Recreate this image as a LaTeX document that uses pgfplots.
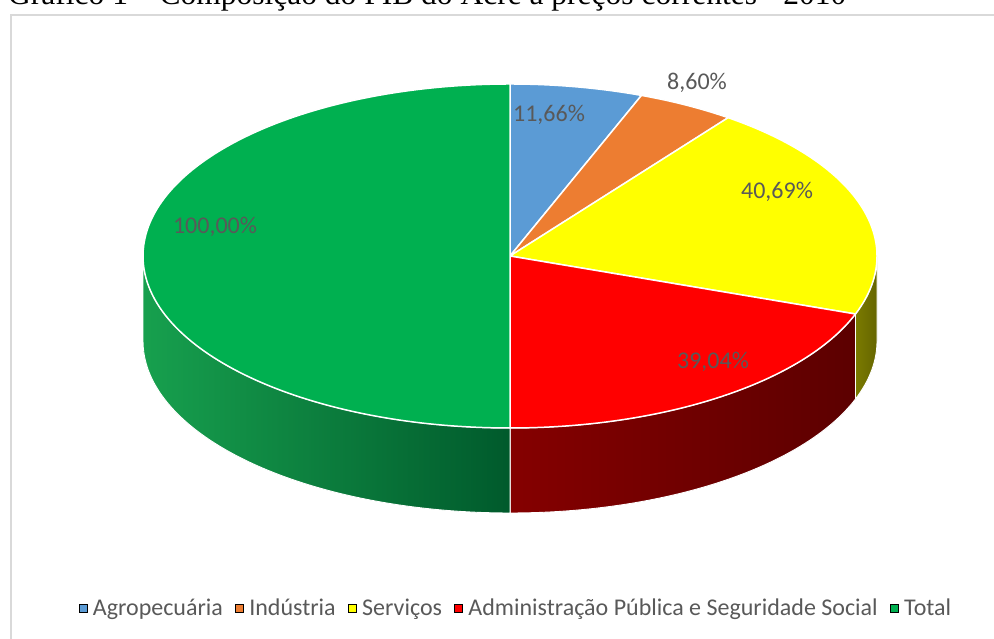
\documentclass[border=0pt]{standalone}
\usepackage{pgfplots}
\pgfplotsset{compat=1.18}
\usepackage{pgfplotstable}
\usepackage{fontspec}
\setmainfont{Carlito}
\newfontfamily\titlefont{Liberation Serif}

\definecolor{pc0}{HTML}{5B9BD5}
\definecolor{pc1}{HTML}{ED7D31}
\definecolor{pc2}{HTML}{FFFF00}
\definecolor{pc3}{HTML}{FF0000}
\definecolor{pc4}{HTML}{00B050}
\definecolor{wl0}{HTML}{2E5C8A}\definecolor{wr0}{HTML}{244A70}
\definecolor{wl1}{HTML}{8A4A1C}\definecolor{wr1}{HTML}{703B16}
\definecolor{wl2}{HTML}{7A7A00}\definecolor{wr2}{HTML}{666600}
\definecolor{wl3}{HTML}{850000}\definecolor{wr3}{HTML}{5C0000}
\definecolor{wl4}{HTML}{17A04E}\definecolor{wr4}{HTML}{005A2C}
\definecolor{labelgray}{HTML}{595959}
\definecolor{framegray}{HTML}{D9D9D9}

\pgfplotstableread{
name value
Agropecuaria 11.66
Industria 8.60
Servicos 40.69
Administracao 39.04
Total 100.00
}\piedata

\pgfmathsetmacro\pietotal{0}
\pgfplotsforeachungrouped \i in {0,...,4}{%
  \pgfplotstablegetelem{\i}{value}\of\piedata
  \pgfmathsetmacro\pietotal{\pietotal+\pgfplotsretval}%
}
\pgfmathsetmacro\piecum{0}
\pgfplotsforeachungrouped \i in {0,...,4}{%
  \pgfplotstablegetelem{\i}{value}\of\piedata
  \pgfmathsetmacro\pieend{\piecum+\pgfplotsretval/\pietotal*360}%
  \pgfmathsetmacro\tS{90-\piecum}%
  \pgfmathsetmacro\tE{90-\pieend}%
  \expandafter\xdef\csname pieTS\i\endcsname{\tS}%
  \expandafter\xdef\csname pieTE\i\endcsname{\tE}%
  \pgfmathsetmacro\wS{max(\piecum,90)}%
  \pgfmathsetmacro\wE{min(\pieend,270)}%
  \pgfmathtruncatemacro\wF{\wE>\wS ? 1 : 0}%
  \pgfmathsetmacro\wA{90-\wS}%
  \pgfmathsetmacro\wB{90-\wE}%
  \expandafter\xdef\csname pieWF\i\endcsname{\wF}%
  \expandafter\xdef\csname pieWA\i\endcsname{\wA}%
  \expandafter\xdef\csname pieWB\i\endcsname{\wB}%
  \xdef\piecum{\pieend}%
}

\begin{document}
\begin{tikzpicture}[x=1pt,y=1pt]
\draw[framegray, line width=1.6pt] (11,-30) -- (11,624) -- (1030,624);
\node[anchor=base west, inner sep=0pt, font=\titlefont\fontsize{31.5}{36}\selectfont] at (8,634.5)
  {Gráfico 1 – Composição do PIB do Acre a preços correntes - 2010};
\begin{axis}[
  at={(0pt,0pt)}, anchor=south west,
  scale only axis, width=994pt, height=639pt,
  xmin=0, xmax=994, ymin=0, ymax=639,
  hide axis, clip=false,
  legend columns=5,
  legend cell align=left,
  legend image code/.code={\fill[#1] (0pt,-4pt) rectangle (8pt,4pt); \path (12pt,0pt);},
  legend style={at={(0.519,0.0485)}, anchor=center, draw=none, fill=none,
    font=\fontsize{24}{28}\selectfont, text=labelgray,
    /tikz/every even column/.append style={column sep=10pt}},
]
\pgfplotsinvokeforeach{0,...,4}{%
  \ifnum\csname pieWF#1\endcsname=1
  \shade[left color=wl#1, right color=wr#1, draw=white, line width=0.9pt]
    (axis cs:{510+367*cos(\csname pieWA#1\endcsname)},{383+172*sin(\csname pieWA#1\endcsname)})
    arc[start angle=\csname pieWA#1\endcsname, end angle=\csname pieWB#1\endcsname, x radius=367pt, y radius=172pt]
    -- ++(0pt,-85pt)
    arc[start angle=\csname pieWB#1\endcsname, end angle=\csname pieWA#1\endcsname, x radius=367pt, y radius=172pt]
    -- cycle;
  \fi
}
\pgfplotsinvokeforeach{0,...,4}{%
  \path[fill=pc#1, draw=white, line width=1.5pt, line join=round]
    (axis cs:510,383) --
    (axis cs:{510+367*cos(\csname pieTS#1\endcsname)},{383+172*sin(\csname pieTS#1\endcsname)})
    arc[start angle=\csname pieTS#1\endcsname, end angle=\csname pieTE#1\endcsname, x radius=367pt, y radius=172pt]
    -- cycle;
}
\addlegendimage{fill=pc0}\addlegendentry{Agropecuária}
\addlegendimage{fill=pc1}\addlegendentry{Indústria}
\addlegendimage{fill=pc2}\addlegendentry{Serviços}
\addlegendimage{fill=pc3}\addlegendentry{Administração Pública e Seguridade Social}
\addlegendimage{fill=pc4}\addlegendentry{Total}
\begin{scope}[every node/.style={font=\fontsize{24}{28}\selectfont, text=labelgray}]
\node at (axis cs:549,524) {11,66\%};
\node at (axis cs:697,556) {8,60\%};
\node at (axis cs:777,447) {40,69\%};
\node at (axis cs:713,277) {39,04\%};
\node at (axis cs:215,412) {100,00\%};
\end{scope}
\end{axis}
\pgfresetboundingbox
\useasboundingbox (0,0) rectangle (994,639);
\end{tikzpicture}
\end{document}
